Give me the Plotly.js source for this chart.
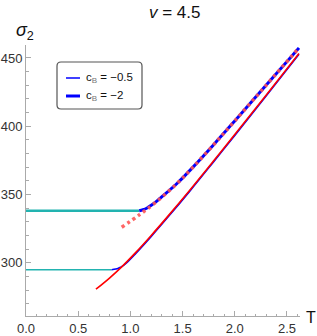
<!DOCTYPE html>
<html>
<head>
<meta charset="utf-8">
<script src="https://cdn.plot.ly/plotly-3.0.1.min.js"></script>
<style>html,body{margin:0;padding:0;background:#fff;}#chart{width:317px;height:336px;}</style>
</head>
<body>
<div id="chart"></div>
<script>
// ---- data ----
const cyanLowT = [0, 0.82];
const cyanLowS = [295, 295];
const cyanHighT = [0, 1.085];
const cyanHighS = [338.2, 338.2];

// c_B = -0.5 (thin blue)
const blueThinT = [0.82, 0.86, 0.89, 0.92, 0.96, 1.05, 1.2, 1.35, 1.571, 1.8, 2.0, 2.3, 2.615];
const blueThinS = [295, 295.5, 296.3, 297.4, 299.8, 306.8, 319.4, 332.6, 352.7, 374.3, 393.3, 422.2, 452.8];

// red solid
const redT = [0.67, 0.8, 0.917, 1.05, 1.2, 1.35, 1.571, 1.8, 2.0, 2.3, 2.615];
const redS = [280.7, 288.9, 297.1, 307.5, 320.1, 333.3, 353.4, 374.9, 393.9, 422.7, 453.3];

// c_B = -2 (thick blue)
const blueThickT = [1.085, 1.12, 1.16, 1.2, 1.25, 1.3, 1.449, 1.6, 1.8, 2.0, 2.3, 2.615];
const blueThickS = [338.2, 338.9, 340.2, 342.2, 345.0, 348.3, 358.3, 370.1, 386.7, 403.9, 430.0, 457.4];

// pink dotted
const pinkT = [0.917, 1.085, 1.25, 1.449, 1.6, 1.8, 2.0, 2.3, 2.615];
const pinkS = [326.1, 335.1, 344.8, 358.3, 370.1, 386.7, 403.9, 430.0, 457.4];

const xTicks = [0, 0.5, 1.0, 1.5, 2.0, 2.5];
const xTickText = ['0.0', '0.5', '1.0', '1.5', '2.0', '2.5'];
const yTicks = [300, 350, 400, 450];
const yTickText = ['300', '350', '400', '450'];

const legendNames = ['c<sub><span style="color:#777">B</span></sub> = −0.5', 'c<sub><span style="color:#777">B</span></sub> = −2'];
const titleText = '<i>v</i> = 4.5';

// ---- layout helpers (pixel -> paper) ----
const L = 26, R = 300, TOP = 45, BOT = 316;
const px = x => (x - L) / (R - L);
const py = y => (BOT - y) / (BOT - TOP);

const teal = '#22b3b0';
const traces = [
  {x: cyanLowT, y: cyanLowS, mode: 'lines', line: {color: teal, width: 1.5}, showlegend: false, hoverinfo: 'skip'},
  {x: cyanHighT, y: cyanHighS, mode: 'lines', line: {color: teal, width: 2.5}, showlegend: false, hoverinfo: 'skip'},
  {x: blueThinT, y: blueThinS, mode: 'lines', line: {color: '#0000ff', width: 1.6, shape: 'spline'}, name: 'c_B = -0.5', showlegend: false},
  {x: redT, y: redS, mode: 'lines', line: {color: '#ff0000', width: 1.6, shape: 'spline'}, showlegend: false},
  {x: blueThickT, y: blueThickS, mode: 'lines', line: {color: '#0000ff', width: 3, shape: 'spline'}, name: 'c_B = -2', showlegend: false},
  {x: pinkT, y: pinkS, mode: 'lines', line: {color: 'rgba(255,85,85,0.9)', width: 3.5, dash: '3px,3.5px', shape: 'spline'}, showlegend: false}
];

// rounded legend box
const bx0 = px(57), bx1 = px(142), by0 = py(62), by1 = py(109);
const rx = 4 / (R - L), ry = 4 / (BOT - TOP);
const boxPath = `M ${bx0 + rx},${by0} L ${bx1 - rx},${by0} Q ${bx1},${by0} ${bx1},${by0 - ry} L ${bx1},${by1 + ry} Q ${bx1},${by1} ${bx1 - rx},${by1} L ${bx0 + rx},${by1} Q ${bx0},${by1} ${bx0},${by1 + ry} L ${bx0},${by0 - ry} Q ${bx0},${by0} ${bx0 + rx},${by0} Z`;

const layout = {
  width: 317, height: 336,
  margin: {l: L, r: 317 - R, t: TOP, b: 336 - BOT, pad: 0},
  paper_bgcolor: '#fff', plot_bgcolor: '#fff',
  font: {family: 'Liberation Sans, Arial, sans-serif', color: '#333'},
  showlegend: false,
  xaxis: {
    range: [0, 2.625], tickvals: xTicks, ticktext: xTickText,
    ticks: 'inside', ticklen: 5, tickwidth: 1, tickcolor: '#aaa',
    showline: true, linecolor: '#aaa', linewidth: 1,
    showgrid: false, zeroline: false,
    tickfont: {size: 13, color: '#333'},
    minor: {dtick: 0.1, ticks: 'inside', ticklen: 2.5, tickcolor: '#aaa', showgrid: false}
  },
  yaxis: {
    range: [261.1, 459.5], tickvals: yTicks, ticktext: yTickText,
    ticks: 'inside', ticklen: 5, tickwidth: 1, tickcolor: '#aaa',
    showline: true, linecolor: '#aaa', linewidth: 1,
    showgrid: false, zeroline: false,
    tickfont: {size: 13, color: '#333'},
    minor: {dtick: 10, ticks: 'inside', ticklen: 2.5, tickcolor: '#aaa', showgrid: false}
  },
  shapes: [
    {type: 'path', xref: 'paper', yref: 'paper', path: boxPath, line: {color: '#555', width: 1.2}, fillcolor: '#fff', layer: 'above'},
    {type: 'line', xref: 'paper', yref: 'paper', x0: px(66), x1: px(80), y0: py(78), y1: py(78), line: {color: '#0000ff', width: 1.5}, layer: 'above'},
    {type: 'line', xref: 'paper', yref: 'paper', x0: px(66), x1: px(80), y0: py(96), y1: py(96), line: {color: '#0000ff', width: 3}, layer: 'above'}
  ],
  annotations: [
    {text: titleText, xref: 'paper', yref: 'paper', x: px(175), y: py(12), xanchor: 'center', yanchor: 'middle', showarrow: false, font: {size: 17, color: '#111'}},
    {text: '<i>σ</i><sub>2</sub>', xref: 'paper', yref: 'paper', x: px(25), y: py(32), xanchor: 'center', yanchor: 'middle', showarrow: false, font: {size: 18, color: '#111'}},
    {text: 'T', xref: 'paper', yref: 'paper', x: px(311), y: py(317), xanchor: 'center', yanchor: 'middle', showarrow: false, font: {size: 16, color: '#111'}},
    {text: legendNames[0], xref: 'paper', yref: 'paper', x: px(84), y: py(78), xanchor: 'left', yanchor: 'middle', showarrow: false, font: {size: 11.5, color: '#111'}},
    {text: legendNames[1], xref: 'paper', yref: 'paper', x: px(84), y: py(96), xanchor: 'left', yanchor: 'middle', showarrow: false, font: {size: 11.5, color: '#111'}}
  ]
};

Plotly.newPlot('chart', traces, layout, {staticPlot: true, displayModeBar: false});
</script>
</body>
</html>
